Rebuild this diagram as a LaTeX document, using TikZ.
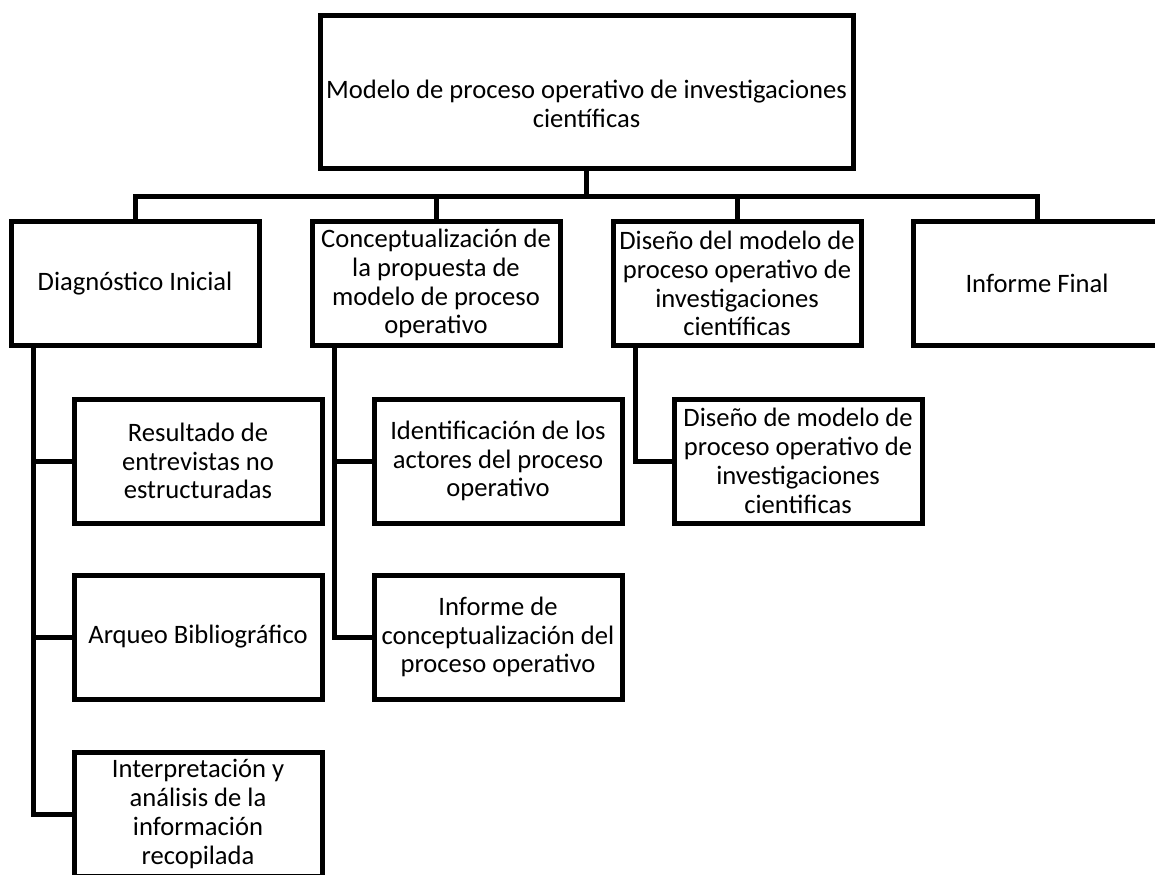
\documentclass[tikz,border=0pt]{standalone}
\usepackage{fontspec}
\setmainfont{Carlito}

\newcommand{\pxscl}{0.5pt}
\newcommand{\linew}{2.5pt}
\newcommand{\cpx}[1]{#1*\pxscl}
\newcommand{\cpy}[1]{-#1*\pxscl}
\newcommand{\boxfont}{\fontsize{13.3pt}{14.4pt}\selectfont}

\tikzset{
    stagebox/.style={draw, line width=\linew, align=center, inner sep=0pt,
        minimum width=\cpx{248}, minimum height=\cpx{124}, font=\boxfont},
    mainframe/.style={stagebox, minimum width=\cpx{533}, minimum height=\cpx{153}},
}
\newcommand{\sbx}{\node[stagebox]}

\begin{document}
\begin{tikzpicture}[line width=\linew]
            \useasboundingbox (0,0) rectangle (\cpx{1155}, \cpy{874});

            % raiz
            \node[mainframe] (top) at (\cpx{586.5}, \cpy{91.5}) {};
            \node[font=\boxfont, align=center, inner sep=0pt] (toptext) at (\cpx{586.5}, \cpy{104})
                {Modelo de proceso operativo de investigaciones\\científicas};

            % fases
            \sbx (diag) at (\cpx{135}, \cpy{283.5}) {Diagnóstico Inicial};
            \sbx (conc) at (\cpx{436}, \cpy{283.5}) {Conceptualización de\\la propuesta de\\modelo de proceso\\operativo};
            \sbx (dise) at (\cpx{737}, \cpy{283.5}) {Diseño del modelo de\\proceso operativo de\\investigaciones\\científicas};
            \sbx (info) at (\cpx{1037}, \cpy{283.5}) {Informe Final};

            % productos
            \sbx (diag1) at (\cpx{198}, \cpy{461}) {Resultado de\\entrevistas no\\estructuradas};
            \sbx (diag2) at (\cpx{198}, \cpy{637}) {Arqueo Bibliográfico};
            \sbx (diag3) at (\cpx{198}, \cpy{814}) {Interpretación y\\análisis de la\\información\\recopilada};
            \sbx (conc1) at (\cpx{498}, \cpy{461}) {Identificación de los\\actores del proceso\\operativo};
            \sbx (conc2) at (\cpx{498}, \cpy{637}) {Informe de\\conceptualización del\\proceso operativo};
            \sbx (dise1) at (\cpx{798}, \cpy{461}) {Diseño de modelo de\\proceso operativo de\\investigaciones\\cientificas};

            \coordinate (bus) at (\cpx{587}, \cpy{196});
            \coordinate (sp1) at ([xshift=\cpx{25}]diag.south west);
            \coordinate (sp2) at ([xshift=\cpx{25}]conc.south west);
            \coordinate (sp3) at ([xshift=\cpx{25}]dise.south west);

            \draw
                (top.south) -- (top.south |- bus)
                (diag.north) -- (diag.north |- bus) -- (info.north |- bus) -- (info.north)
                (conc.north) -- (conc.north |- bus)
                (dise.north) -- (dise.north |- bus)
                ;

            \draw
                (sp1) |- (diag3.west)
                (diag1.west) -- (diag1.west -| sp1)
                (diag2.west) -- (diag2.west -| sp1)
                (sp2) |- (conc2.west)
                (conc1.west) -- (conc1.west -| sp2)
                (sp3) |- (dise1.west)
                ;
        \end{tikzpicture}
\end{document}
